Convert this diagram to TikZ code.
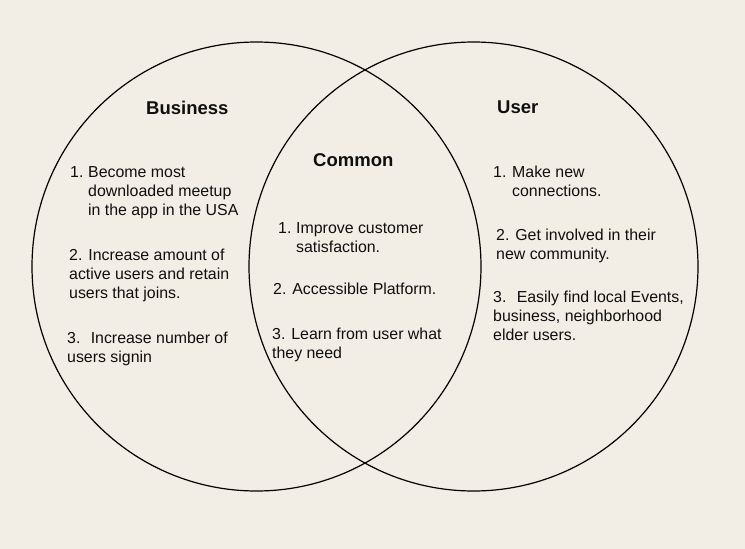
\documentclass[tikz,border=0pt]{standalone}
\usepackage{fontspec}
\setmainfont{Liberation Sans}
\definecolor{paper}{RGB}{243,238,229}
\definecolor{ink}{RGB}{15,15,15}

\begin{document}
\begin{tikzpicture}[x=1pt,y=-1pt]
  \tikzstyle{set}=[circle,draw=black,line width=1.2pt,minimum size=449pt]
  \tikzstyle{heading}=[anchor=base west,inner sep=0pt,text=ink,font=\bfseries\fontsize{18.5}{22}\selectfont]
  % base of a block = baseline of its last line
  \tikzstyle{item}=[anchor=base west,inner sep=0pt,align=left,text=ink,font=\fontsize{15.9}{19}\selectfont]

  \fill[paper] (0,0) rectangle (745,549);
  \useasboundingbox (0,0) rectangle (745,549);

  % the two sets
  \node[set] (left)  at (256.5,266.5) {};
  \node[set] (right) at (473.5,266.5) {};

  % business side
  \node[heading] (business) at (146,114) {Business};
  \node[item]    (b1n) at (70,177) {1.};
  \node[item]    (b1)  at (88,215) {Become most\\downloaded meetup\\in the app in the USA};
  \node[item]    (b2)  at (69,298) {2. Increase amount of\\active users and retain\\users that joins.};
  \node[item]    (b3)  at (67,362) {3.~ Increase number of\\users signin};

  % common part
  \node[heading] (common) at (313,166) {Common};
  \node[item]    (c1n) at (278,233) {1.};
  \node[item]    (c1)  at (296,252) {Improve customer\\satisfaction.};
  \node[item]    (c2)  at (273,294) {2. Accessible Platform.};
  \node[item]    (c3)  at (272,358) {3. Learn from user what\\they need};

  % user side
  \node[heading] (user) at (497,113) {User};
  \node[item]    (u1n) at (493,177) {1.};
  \node[item]    (u1)  at (512,196) {Make new\\connections.};
  \node[item]    (u2)  at (496,259) {2. Get involved in their\\new community.};
  \node[item]    (u3)  at (493,340) {3.~ Easily find local Events,\\business, neighborhood\\elder users.};
\end{tikzpicture}
\end{document}
